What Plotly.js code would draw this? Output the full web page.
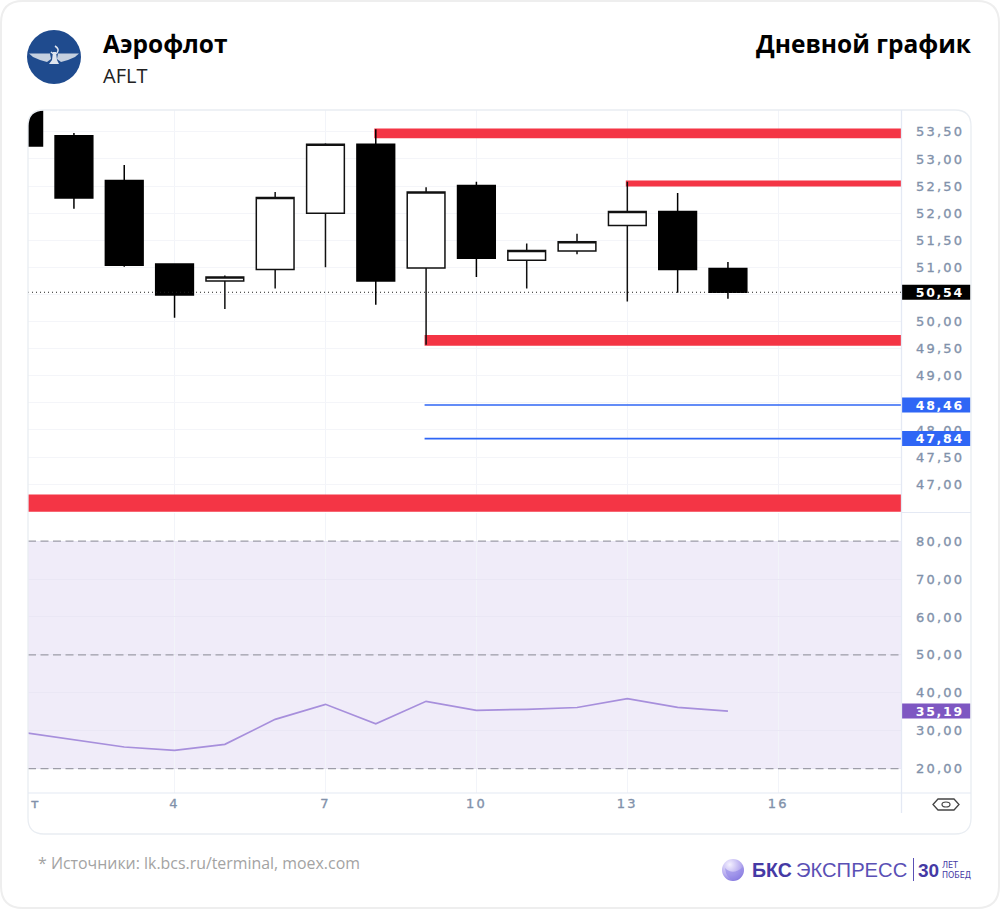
<!DOCTYPE html>
<html lang="ru"><head><meta charset="utf-8">
<script src="https://cdn.plot.ly/plotly-3.0.1.min.js"></script>
<style>
html,body{margin:0;padding:0;background:#fff}
.ytick text,.xtick text,.y2tick text{letter-spacing:2.2px;stroke:#8494ab;stroke-width:.35px}
.annotation[data-index="0"] text,.annotation[data-index="1"] text,.annotation[data-index="2"] text,.annotation[data-index="3"] text{letter-spacing:1.7px}
.annotation[data-index="4"] text{stroke:#8494ab;stroke-width:.5px}
</style></head><body><div id="plot" style="width:1000px;height:910px"></div>
<script>
const days  =[1,2,3,4,5,6,7,8,9,10,11,12,13,14,15];
const opens =[54.30,53.43,52.60,51.06,50.75,50.96,52.00,53.27,50.99,52.51,51.13,51.30,51.77,52.03,50.98];
const highs =[54.40,53.48,52.89,51.06,50.85,52.39,53.29,53.55,52.48,52.58,51.44,51.62,52.58,52.37,51.10];
const lows  =[53.24,52.08,51.01,50.07,50.23,50.61,51.00,50.31,49.57,50.82,50.61,51.24,50.37,50.53,50.42];
const closes=[53.24,52.28,51.04,50.49,50.82,52.29,53.27,50.75,52.39,51.17,51.31,51.47,52.03,50.96,50.54];
const rsi   =[29.54,27.69,25.72,24.85,26.43,33.02,36.97,31.86,37.76,35.39,35.65,36.13,38.45,36.18,35.19];
const priceTicks=[47,47.5,48,48.5,49,49.5,50,50.5,51,51.5,52,52.5,53,53.5];
const priceLabels=['47,00','47,50','48,00','','49,00','49,50','50,00','','51,00','51,50','52,00','52,50','53,00','53,50'];
const rsiTicks=[20,30,40,50,60,70,80];
const rsiLabels=['20,00','30,00','40,00','50,00','60,00','70,00','80,00'];
const dayTicks=[4,7,10,13,16];
const lastPrice=50.54, lastRsi=35.19;
const blueLevels=[48.46,47.84];
const redStart=[7.97,12.97,8.97,1.087];
const redLow  =[53.38,52.49,49.555,46.49];
const redHigh =[53.56,52.60,49.75,46.81];
const xStart=1.087, xEnd=18.44, blueStart=8.97;

const W=1000,H=910;
const px=x=>x/W, py=y=>1-y/H;
function rrect(x0,y0,x1,y1,r){const X=px,Y=py;
 return `M${X(x0+r)},${Y(y0)} L${X(x1-r)},${Y(y0)} Q${X(x1)},${Y(y0)} ${X(x1)},${Y(y0+r)} L${X(x1)},${Y(y1-r)} Q${X(x1)},${Y(y1)} ${X(x1-r)},${Y(y1)} L${X(x0+r)},${Y(y1)} Q${X(x0)},${Y(y1)} ${X(x0)},${Y(y1-r)} L${X(x0)},${Y(y0+r)} Q${X(x0)},${Y(y0)} ${X(x0+r)},${Y(y0)} Z`;}
const poly=(pts)=>'M'+pts.map(p=>`${px(p[0])},${py(p[1])}`).join(' L')+' Z';

const traces=[
 {type:'scatter',mode:'lines',x:[xStart,xEnd],y:[lastPrice,lastPrice],xaxis:'x',yaxis:'y',line:{color:'#222',width:1,dash:'1px,3px'},hoverinfo:'skip'},
 {type:'candlestick',x:days,open:opens,high:highs,low:lows,close:closes,xaxis:'x',yaxis:'y',whiskerwidth:0,
  increasing:{line:{color:'#111',width:1.5},fillcolor:'#fff'},decreasing:{line:{color:'#000',width:1.5},fillcolor:'#000'}},
 {type:'scatter',mode:'lines',x:days,y:rsi,xaxis:'x',yaxis:'y2',line:{color:'#a78fdc',width:1.7},hoverinfo:'skip'}
];
blueLevels.forEach(v=>traces.push({type:'scatter',mode:'lines',x:[blueStart,xEnd],y:[v,v],xaxis:'x',yaxis:'y',line:{color:'#2f66f5',width:1.7},hoverinfo:'skip'}));

const shapes=[
 {type:'path',xref:'paper',yref:'paper',path:rrect(1,1,999,908,22),line:{color:'#eeeeee',width:2},fillcolor:'rgba(0,0,0,0)',layer:'below'},
 {type:'circle',xref:'paper',yref:'paper',x0:px(27),x1:px(81),y0:py(84),y1:py(30),fillcolor:'#1f4b8e',line:{width:0},layer:'below'},
 {type:'rect',xref:'paper',yref:'y2',x0:px(28),x1:px(901),y0:20,y1:80,fillcolor:'#f0ecf9',line:{width:0},layer:'below'}
];
[80,50,20].forEach(v=>shapes.push({type:'line',xref:'x',yref:'y2',x0:xStart,x1:xEnd,y0:v,y1:v,line:{color:'#9d9da8',width:1.3,dash:'8px,4.5px'},layer:'between'}));
redLow.forEach((v,i)=>shapes.push({type:'rect',xref:'x',yref:'y',x0:redStart[i],x1:xEnd,y0:v,y1:redHigh[i],fillcolor:'#f43545',line:{width:0},layer:'between'}));
[[lastPrice,'y','#000'],[blueLevels[0],'y','#2f66f5'],[blueLevels[1],'y','#2f66f5'],[lastRsi,'y2','#7e57c2']].forEach(t=>{
 shapes.push({type:'rect',xref:'paper',yref:t[1],ysizemode:'pixel',yanchor:t[0],y0:-7.5,y1:7.5,x0:px(901),x1:px(970.5),fillcolor:t[2],line:{width:0},layer:'above'});
});
shapes.push(
 {type:'path',xref:'paper',yref:'paper',path:`M${px(28)},${py(110)} L${px(44)},${py(110)} Q${px(28)},${py(110)} ${px(28)},${py(126)} Z`,fillcolor:'#fff',line:{width:0},layer:'above'},
 {type:'path',xref:'paper',yref:'paper',path:rrect(28,110,971,834,16),line:{color:'#e9edf2',width:1.3},fillcolor:'rgba(0,0,0,0)',layer:'above'},
 {type:'line',xref:'paper',yref:'paper',x0:px(901.5),x1:px(901.5),y0:py(110),y1:py(813),line:{color:'#e4e9f4',width:1.3},layer:'above'},
 {type:'line',xref:'paper',yref:'paper',x0:px(28),x1:px(971),y0:py(793),y1:py(793),line:{color:'#e4e9f4',width:1.2},layer:'above'},
 {type:'line',xref:'paper',yref:'paper',x0:px(901),x1:px(971),y0:py(512.5),y1:py(512.5),line:{color:'#e4e9f4',width:1.2},layer:'above'},
 {type:'path',xref:'paper',yref:'paper',path:poly([[933,804.5],[938,799],[954,799],[959,804.5],[954,810],[938,810]]),line:{color:'#444',width:1.3},fillcolor:'rgba(0,0,0,0)',layer:'above'},
 {type:'circle',xref:'paper',yref:'paper',x0:px(942),x1:px(950),y0:py(807),y1:py(802),line:{color:'#444',width:1.2},fillcolor:'rgba(0,0,0,0)',layer:'above'},
 {type:'line',xref:'paper',yref:'paper',x0:px(913.5),x1:px(913.5),y0:py(858),y1:py(881),line:{color:'#5a50b5',width:1},layer:'above'},
 {type:'path',xref:'paper',yref:'paper',path:poly([[29,53.5],[50,53.5],[51,59],[47,62],[40,60],[33,57]]),fillcolor:'#c5d0e0',line:{width:0},layer:'above'},
 {type:'path',xref:'paper',yref:'paper',path:poly([[79,53.5],[58,53.5],[57,59],[61,62],[68,60],[75,57]]),fillcolor:'#c5d0e0',line:{width:0},layer:'above'},
 {type:'path',xref:'paper',yref:'paper',path:poly([[53,52],[56,52],[57,60],[59,64],[49,64],[52,60]]),fillcolor:'#dfe5ef',line:{width:0},layer:'above'},
 {type:'path',xref:'paper',yref:'paper',path:`M${px(55)},${py(46)} Q${px(60)},${py(49)} ${px(57)},${py(53)} Q${px(54)},${py(55)} ${px(51)},${py(52)}`,fillcolor:'rgba(0,0,0,0)',line:{color:'#dfe5ef',width:1.5},layer:'above'}
);

const tick={family:'"DejaVu Sans"',size:13,color:'#7f90aa'};
const tag=(text,y,yref)=>({text:`<b>${text}</b>`,x:px(940),xref:'paper',y:y,yref:yref,xanchor:'center',yanchor:'middle',showarrow:false,font:{family:'"DejaVu Sans"',size:12.5,color:'#fff'}});
const txt=(text,x,y,anchor,size,color,family)=>({text,x:px(x),y:py(y),xref:'paper',yref:'paper',xanchor:anchor,yanchor:'middle',showarrow:false,font:{family:family||'"Open Sans"',size,color}});
const annotations=[
 tag('50,54',lastPrice,'y'),tag('48,46',blueLevels[0],'y'),tag('47,84',blueLevels[1],'y'),tag('35,19',lastRsi,'y2'),
 {text:'т',x:px(29),xanchor:'left',xref:'paper',y:py(803),yref:'paper',yanchor:'middle',showarrow:false,font:tick},
 txt('<b>Аэрофлот</b>',101,43,'left',24.5,'#000'),
 txt('AFLT',101,75.5,'left',20,'#222'),
 txt('<b>Дневной график</b>',974,43,'right',24.5,'#000'),
 txt('* Источники: lk.bcs.ru/terminal, moex.com',36,863,'left',15.9,'#a3a3a3'),
 txt('<b>БКС</b>',750,870,'left',19.5,'#453aa5','"Liberation Sans"'),
 txt('ЭКСПРЕСС',794,870,'left',20.2,'#5a50b5','"Liberation Sans"'),
 txt('<b>30</b>',916,870,'left',19,'#453aa5','"Liberation Sans"'),
 txt('ЛЕТ',940,865,'left',8,'#453aa5','"DejaVu Sans"'),
 txt('ПОБЕД',940,875,'left',8,'#453aa5','"DejaVu Sans"')
];

const ballSvg=`<svg xmlns="http://www.w3.org/2000/svg" viewBox="0 0 24 24"><defs><radialGradient id="g" cx="35%" cy="25%" r="90%"><stop offset="0" stop-color="#f4f1ff"/><stop offset=".55" stop-color="#b9aef0"/><stop offset="1" stop-color="#6f62d8"/></radialGradient></defs><circle cx="12" cy="12" r="11" fill="url(#g)"/><path d="M4 10 Q12 18 22 9 Q21 20 12 22 Q5 20 4 10Z" fill="#8f83e6" opacity=".6"/></svg>`;

const layout={
 width:W,height:H,margin:{l:0,r:0,t:0,b:0,pad:0},paper_bgcolor:'#fff',plot_bgcolor:'rgba(0,0,0,0)',showlegend:false,boxgap:0.25,boxgroupgap:0,hovermode:false,
 xaxis:{domain:[px(28),px(901)],range:[xStart,xEnd],anchor:'y2',tickmode:'array',tickvals:dayTicks,ticktext:dayTicks.map(String),tickfont:tick,showgrid:true,gridcolor:'#f2f4f9',gridwidth:1,zeroline:false,ticks:'',ticklabelstandoff:1,rangeslider:{visible:false},showline:false},
 yaxis:{domain:[py(512),py(110)],range:[46.486,53.903],anchor:'x',side:'right',tickmode:'array',tickvals:priceTicks,ticktext:priceLabels,tickfont:tick,showgrid:true,gridcolor:'#f4f5f9',gridwidth:1,zeroline:false,ticks:'',ticklabelstandoff:14,showline:false},
 yaxis2:{domain:[py(793),py(513)],range:[13.6,87.4],anchor:'x',side:'right',tickmode:'array',tickvals:rsiTicks,ticktext:rsiLabels,tickfont:tick,showgrid:true,gridcolor:'#eae7f5',gridwidth:1,zeroline:false,ticks:'',ticklabelstandoff:14,showline:false},
 shapes,annotations,
 images:[{source:'data:image/svg+xml;utf8,'+encodeURIComponent(ballSvg),xref:'paper',yref:'paper',x:px(721),y:py(858),sizex:px(24),sizey:24/H,sizing:'stretch',xanchor:'left',yanchor:'top',layer:'above'}]
};
Plotly.newPlot('plot',traces,layout,{displayModeBar:false,staticPlot:true});
</script></body></html>
